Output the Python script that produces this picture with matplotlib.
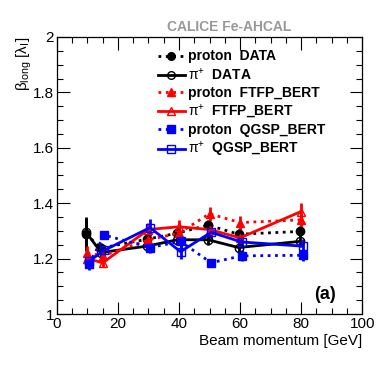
import matplotlib
matplotlib.use("Agg")
import matplotlib.pyplot as plt
from matplotlib.ticker import MultipleLocator
from matplotlib.lines import Line2D
import numpy as np

plt.rcParams['font.family'] = ['Liberation Sans', 'DejaVu Sans']
plt.rcParams['mathtext.fontset'] = 'custom'
plt.rcParams['mathtext.rm'] = 'Liberation Sans'
plt.rcParams['mathtext.it'] = 'Liberation Sans:italic'
plt.rcParams['mathtext.bf'] = 'Liberation Sans:bold'

momentum = [10, 15, 30, 40, 50, 60, 80]

proton_data = [1.288, 1.238, 1.270, 1.292, 1.321, 1.288, 1.298]
proton_data_err = [0.060, 0.020, 0.020, 0.020, 0.020, 0.020, 0.020]
pi_data = [1.296, 1.222, 1.245, 1.268, 1.268, 1.240, 1.262]
pi_data_err = [0.055, 0.020, 0.020, 0.020, 0.020, 0.020, 0.020]

proton_ftfp = [1.220, 1.210, 1.268, 1.292, 1.362, 1.330, 1.340]
proton_ftfp_err = [0.025, 0.020, 0.025, 0.025, 0.025, 0.025, 0.025]
pi_ftfp = [1.200, 1.185, 1.305, 1.315, 1.305, 1.275, 1.370]
pi_ftfp_err = [0.020, 0.015, 0.025, 0.025, 0.025, 0.020, 0.030]

proton_qgsp = [1.180, 1.285, 1.240, 1.262, 1.185, 1.210, 1.212]
proton_qgsp_err = [0.020, 0.015, 0.020, 0.020, 0.015, 0.020, 0.020]
pi_qgsp = [1.190, 1.230, 1.312, 1.225, 1.295, 1.260, 1.245]
pi_qgsp_err = [0.020, 0.020, 0.030, 0.025, 0.025, 0.020, 0.025]

labels = [r"proton  DATA", r"$\mathrm{\pi}^{+}$  DATA", r"proton  FTFP_BERT",
          r"$\mathrm{\pi}^{+}$  FTFP_BERT", r"proton  QGSP_BERT", r"$\mathrm{\pi}^{+}$  QGSP_BERT"]

fig = plt.figure(figsize=(3.82, 3.66), dpi=100)
ax = fig.add_axes([0.149, 0.142, 0.799, 0.757])

x = np.array(momentum, dtype=float)
series = [
    (proton_data, proton_data_err, 'black', ':', 'o', True, -0.5),
    (pi_data, pi_data_err, 'black', '-', 'o', False, -0.5),
    (proton_ftfp, proton_ftfp_err, 'red', ':', '^', True, 0.0),
    (pi_ftfp, pi_ftfp_err, 'red', '-', '^', False, 0.0),
    (proton_qgsp, proton_qgsp_err, 'blue', ':', 's', True, 0.5),
    (pi_qgsp, pi_qgsp_err, 'blue', '-', 's', False, 0.5),
]
handles = []
for (vals, errs, col, ls, mk, filled, off), lab in zip(series, labels):
    ax.errorbar(x + off, vals, yerr=errs, color=col, ls=ls, lw=2.0,
                marker=mk, ms=6, mfc=col if filled else 'none', mec=col,
                mew=1.0, elinewidth=2.0, capsize=0, zorder=3)
    handles.append(Line2D([], [], color=col, ls=ls, lw=2.0, marker=mk, ms=5.5,
                          mfc=col if filled else 'none', mec=col, mew=1.0))

ax.set_xlim(0, 100)
ax.set_ylim(1, 2)
ax.xaxis.set_minor_locator(MultipleLocator(5))
ax.yaxis.set_minor_locator(MultipleLocator(0.05))
ax.tick_params(which='both', direction='in', top=True, right=True, labelsize=11, width=0.8)
ax.tick_params(which='major', length=9, pad=2)
ax.tick_params(which='minor', length=4.5)
ax.set_xticks([0, 20, 40, 60, 80, 100])
ax.set_xticklabels(['0', '20', '40', '60', '80', '100'])
ax.set_yticks([1, 1.2, 1.4, 1.6, 1.8, 2])
ax.set_yticklabels(['1', '1.2', '1.4', '1.6', '1.8', '2'])
for s in ax.spines.values():
    s.set_linewidth(0.9)

ax.set_xlabel("Beam momentum [GeV]", fontsize=11, loc='right', labelpad=2)
ax.set_ylabel(r"$\mathrm{\beta}_{\mathrm{long}}$ [$\mathrm{\lambda}_{\mathrm{I}}$]", fontsize=11, loc='top', labelpad=-1)

leg = ax.legend(handles, labels, loc='upper left', bbox_to_anchor=(0.331, 0.955),
                frameon=False, prop={'weight': 'bold', 'size': 10},
                handlelength=1.95, handletextpad=0.2, labelspacing=0.22,
                borderaxespad=0, borderpad=0)

fig.text(0.60, 0.925, "CALICE Fe-AHCAL", color='#999999', fontsize=10,
         fontweight='bold', ha='center', va='center')
ax.text(0.879, 0.069, "(a)", transform=ax.transAxes, fontsize=13,
        fontweight='bold', ha='center', va='center')

fig.savefig("out.png", dpi=100)
